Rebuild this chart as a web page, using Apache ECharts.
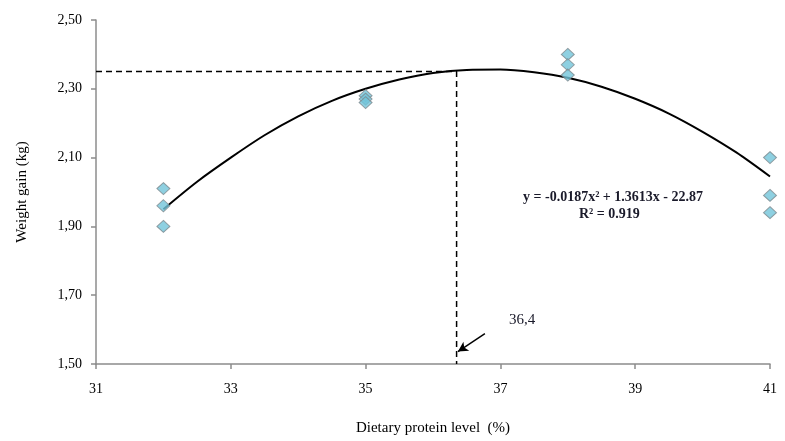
<!DOCTYPE html>
<html style="height: 100%">
<head>
<meta charset="utf-8">
<script src="https://cdn.jsdelivr.net/npm/echarts@6/dist/echarts.min.js"></script>
</head>
<body style="height: 100%; margin: 0; background: #fff">
<div id="container" style="width: 785px; height: 441px"></div>
<script type="text/javascript">
// observed weight gain (kg) at each protein level
var obsLevel = [32, 32, 32, 35, 35, 35, 38, 38, 38, 41, 41, 41];
var obsGain = [2.01, 1.96, 1.90, 2.28, 2.27, 2.26, 2.40, 2.37, 2.34, 2.10, 1.99, 1.94];

// fitted quadratic trend line
var fitLevel = [32, 32.5, 33, 33.5, 34, 34.5, 35, 35.5, 36, 36.5, 37, 37.5, 38, 38.5, 39, 39.5, 40, 40.5, 41];
var fitGain = [1.95, 2.03, 2.10, 2.165, 2.22, 2.265, 2.30, 2.327, 2.346, 2.355, 2.356, 2.348, 2.332, 2.306, 2.271, 2.228, 2.175, 2.115, 2.045];

// optimum
var optLevel = 36.35;
var optGain = 2.35;
var arrowFrom = [36.77, 1.588];
var arrowTo = [36.37, 1.536];

var xTicks = [31, 33, 35, 37, 39, 41];
var yTicks = [1.5, 1.7, 1.9, 2.1, 2.3, 2.5];

var FONT = 'Liberation Serif';

function zip(a, b) {
    var out = [];
    for (var i = 0; i < a.length; i++) out.push([a[i], b[i]]);
    return out;
}

var chart = echarts.init(document.getElementById('container'));

var option = {
    animation: false,
    grid: { left: 96, right: 15, top: 20, bottom: 74 },
    xAxis: {
        type: 'value',
        min: 31,
        max: 41,
        name: 'Dietary protein level  (%)',
        nameLocation: 'middle',
        nameGap: 57,
        nameTextStyle: { fontFamily: FONT, fontSize: 15, color: '#000' },
        splitLine: { show: false },
        axisLine: { lineStyle: { color: '#8c8c8c', width: 1.5 } },
        axisTick: { customValues: xTicks, length: 5, lineStyle: { color: '#8c8c8c', width: 1.5 } },
        axisLabel: {
            customValues: xTicks,
            margin: 18,
            fontFamily: FONT, fontSize: 14, color: '#000'
        }
    },
    yAxis: {
        type: 'value',
        min: 1.5,
        max: 2.5,
        name: 'Weight gain (kg)',
        nameLocation: 'middle',
        nameGap: 66,
        nameTextStyle: { fontFamily: FONT, fontSize: 15, color: '#000' },
        splitLine: { show: false },
        axisLine: { show: true, lineStyle: { color: '#8c8c8c', width: 1.5 } },
        axisTick: { show: true, customValues: yTicks, length: 5, lineStyle: { color: '#8c8c8c', width: 1.5 } },
        axisLabel: {
            customValues: yTicks,
            margin: 14,
            fontFamily: FONT, fontSize: 14, color: '#000',
            formatter: function (v) { return v.toFixed(2).replace('.', ','); }
        }
    },
    series: [
        {
            type: 'line',
            data: [[31, optGain], [optLevel, optGain], [optLevel, 1.5]],
            symbol: 'none',
            lineStyle: { color: '#000', width: 1.5, type: [6, 4] },
            z: 1
        },
        {
            type: 'line',
            data: zip(fitLevel, fitGain),
            smooth: 0.3,
            symbol: 'none',
            lineStyle: { color: '#000', width: 2 },
            z: 2
        },
        {
            type: 'line',
            data: [arrowFrom, arrowTo],
            symbol: 'none',
            lineStyle: { color: '#000', width: 1.5 },
            markPoint: {
                symbol: 'arrow',
                symbolSize: [8, 10],
                symbolRotate: 123,
                symbolOffset: [0, 0],
                itemStyle: { color: '#000' },
                label: { show: false },
                data: [{ coord: arrowTo }]
            },
            z: 2
        },
        {
            type: 'scatter',
            data: zip(obsLevel, obsGain),
            symbol: 'diamond',
            symbolSize: [13, 12],
            itemStyle: { color: '#72c4da', borderColor: '#7d8a8e', borderWidth: 1 },
            z: 3
        }
    ],
    graphic: [
        {
            type: 'text', left: 509, top: 313,
            style: { text: '36,4', fontFamily: FONT, fontSize: 15, fill: '#1a1a2a' }
        },
        {
            type: 'text', left: 523, top: 189,
            style: {
                text: 'y = -0.0187x² + 1.3613x - 22.87\n                R² = 0.919',
                fontFamily: FONT, fontSize: 14, fontWeight: 'bold', fill: '#1a1a2a', lineHeight: 17
            }
        }
    ]
};

chart.setOption(option);
</script>
</body>
</html>
